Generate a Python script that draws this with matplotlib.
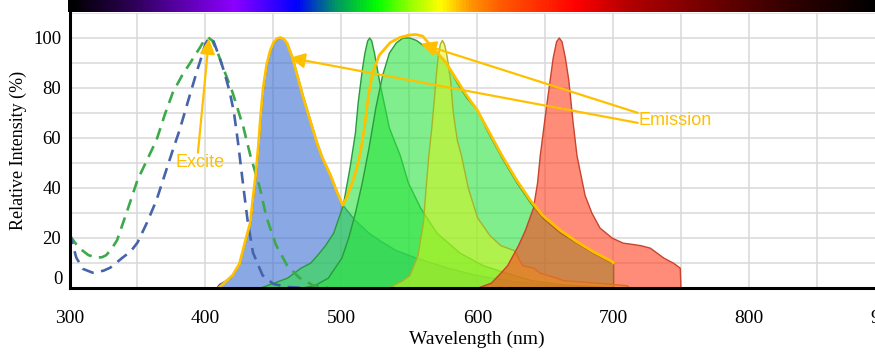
import numpy as np
import matplotlib
matplotlib.use('Agg')
import matplotlib.pyplot as plt
from matplotlib.colors import LinearSegmentedColormap, to_rgba
from matplotlib.patches import FancyArrowPatch

# ---------------- data ----------------
ex_blue_wl = [300, 305, 310, 317, 325, 330, 339, 345, 350, 357, 364, 370, 376, 381, 388, 394, 397, 400,
              403, 406, 408, 411, 414, 418, 421, 424, 426, 428, 431, 435, 442, 450, 460, 470]
ex_blue_val = [22, 12, 7.5, 6, 6.8, 8, 12, 14.5, 18, 26, 35, 45, 55, 63, 76, 87, 92, 97.5,
               100, 98.5, 95.5, 91, 86, 78, 70, 58, 49, 40, 27, 14, 5, 1.5, 0.3, 0]

ex_green_wl = [300, 304, 308, 314, 320, 324, 327, 331, 335, 342, 350, 357, 364, 370, 376, 383, 389,
               393, 396, 399, 402, 405, 409, 413, 420, 428, 433, 440, 445, 452, 460, 469, 479, 490]
ex_green_val = [21, 18, 15.5, 13, 12, 12.2, 13, 15.5, 19, 30, 43, 51, 59, 69, 78, 85, 90,
                93.5, 96, 98.8, 100, 98.8, 94, 88, 78, 64, 53, 40, 28, 17, 9, 4, 1, 0]

em_blue_wl = [408, 410, 415, 418, 421, 425, 430, 433, 435, 437, 439, 440.5, 442.5, 445, 447.5, 450, 452.5,
              455, 457.5, 460, 464, 467, 472, 477, 482, 486, 492, 497, 501, 510, 520, 528, 540, 555,
              578, 600, 627, 660, 700]
em_blue_val = [0, 1.5, 3, 4, 6, 10, 20, 26, 36, 45, 57, 68, 80, 89, 94.5, 97.8, 99.5,
               100, 99.5, 97.8, 92, 86, 76, 67, 58, 52, 45, 38, 33, 27, 22, 19, 15, 12,
               8, 5, 2.5, 1, 0]

em_green1_wl = [440, 450, 460, 470, 477, 482, 488, 494, 501, 506, 510, 512, 515, 517, 519, 520.5,
                522, 524, 528, 535, 543, 549, 558, 570, 587, 604, 621, 640, 660, 690, 700]
em_green1_val = [0, 2, 4, 8, 10, 13, 17, 22, 33, 48, 62, 74, 87, 94, 98.8, 100,
                 98.8, 94, 82, 64, 53, 42, 32, 22, 14, 9, 6, 3, 1.5, 0.5, 0]

em_green2_wl = [470, 480, 490, 500, 505, 510, 515, 520, 525, 530, 535, 540, 545, 550, 555, 560, 567,
                577, 585, 592, 600, 607, 614, 618, 629, 639, 648, 661, 673, 685, 699, 700]
em_green2_val = [0, 1, 4, 12, 20, 30, 42, 56, 72, 85, 94, 98, 100, 100, 99, 97, 96,
                 90, 82, 76, 71, 63, 56, 52, 42, 34, 28, 22, 18, 14, 10, 10]

em_yg_wl = [535, 538, 545, 550, 556, 560, 562, 564, 566, 568, 569.5, 571, 572.5, 574, 575.5, 577, 578.5,
            580, 582, 585, 588, 593, 600, 609, 617, 627, 633, 641, 646, 658, 663, 688, 710, 712]
em_yg_val = [0, 1, 3, 5, 13, 26, 40, 53, 63, 75, 85, 93, 97.5, 99, 97.5, 94, 89,
             83, 70, 59, 53, 40, 28, 21, 17, 15, 9, 8, 6, 4, 3, 2, 1, 0]

em_red_wl = [600, 605, 610, 617, 622, 626, 630, 635, 641, 644, 646, 650, 653, 655.5, 658, 660, 662,
             664.5, 667, 670, 673, 676, 679, 684, 690, 699, 707, 714, 720, 727, 732, 737, 744, 749, 749.5]
em_red_val = [0, 1, 2, 6, 9, 13, 17, 23, 32, 42, 53, 70, 82, 92, 98.5, 100, 98.5,
              92, 83, 67, 53, 45, 37, 30, 24, 20, 18, 17.5, 17, 16, 14, 12, 10, 8, 0]

outline_wl = [410, 415, 420, 425, 430, 433, 435, 437, 439, 440.5, 442.5, 445, 447.5, 450, 452.5, 455,
              457.5, 460, 464, 467, 472, 477, 482, 486, 492, 497, 501, 504, 508, 511, 514, 517, 520,
              523, 528, 536, 543, 550, 555, 560, 563, 567, 577, 585, 592, 600, 607, 614, 618, 629,
              639, 648, 661, 673, 685, 699, 700]
outline_val = [0, 2.5, 5, 9.5, 20, 26, 36, 45, 57, 68, 80, 89, 94.5, 97.8, 99.5, 100,
               99.5, 97.8, 92, 86, 76, 67, 58, 52, 45, 38, 33, 36, 42, 47, 54, 64, 77,
               86, 93, 98, 100, 101, 101.2, 100.5, 98.5, 96, 90, 83, 77, 71, 64, 57, 53, 43,
               35, 29, 23, 18.5, 14.5, 10.5, 10]

x_ticks = [300, 400, 500, 600, 700, 800, 900]
y_ticks = [0, 20, 40, 60, 80, 100]

# spectral bar colour stops (nm, rgb)
bar_nm = [300, 345, 380, 420, 440, 466, 495, 525, 550, 572, 594, 617, 672, 710, 782, 830, 893, 900]
bar_rgb = [(0, 0, 0), (45, 0, 85), (90, 0, 170), (140, 0, 255), (80, 0, 255), (0, 0, 255),
           (0, 150, 100), (0, 255, 0), (150, 255, 0), (255, 255, 0), (255, 150, 0), (255, 90, 0),
           (255, 0, 0), (180, 0, 0), (100, 0, 0), (50, 0, 0), (0, 0, 0), (0, 0, 0)]

# ---------------- figure ----------------
W, H = 875, 353
fig = plt.figure(figsize=(W / 100, H / 100), dpi=100)
x0, x1 = 69.5, 885.0
yb, yt = 287.7, 12.5
ax = fig.add_axes([x0 / W, (H - yb) / H, (x1 - x0) / W, (yb - yt) / H])
bax = fig.add_axes([(x0 - 2) / W, (H - yt) / H, (W - x0 + 2) / W, yt / H])

# spectral bar
lo, hi = bar_nm[0], bar_nm[-1]
cmap = LinearSegmentedColormap.from_list(
    'spec', [((n - lo) / (hi - lo), tuple(c / 255 for c in rgb)) for n, rgb in zip(bar_nm, bar_rgb)])
bx_lo = 300 - 2 / 1.36
bx_hi = 300 + (W - x0) / 1.36
grad = np.linspace(bx_lo, bx_hi, 800)[None, :]
bax.imshow(grad, aspect='auto', cmap=cmap, vmin=lo, vmax=hi, extent=(bx_lo, bx_hi, 0, 1))
bax.set_axis_off()

ax.set_xlim(300, 900)
ax.set_ylim(0, 110)

def filled(wl, val, face, alpha, edge, lw=1.0):
    ax.fill_between(wl, val, 0, facecolor=to_rgba(face, alpha), edgecolor=edge, linewidth=lw, zorder=1)

filled(em_blue_wl, em_blue_val, '#3c6ed2', 0.6, '#3a55a8')
filled(em_green1_wl, em_green1_val, '#2be33f', 0.6, '#2a9a3a')
filled(em_green2_wl, em_green2_val, '#2be33f', 0.6, '#2a9a3a')
filled(em_yg_wl, em_yg_val, '#e0f50f', 0.5, '#a8b428')
filled(em_red_wl, em_red_val, '#ff3f1e', 0.6, '#c8442e')

ax.plot(ex_green_wl, ex_green_val, color='#3caa4b', lw=1.9, dashes=(4.5, 2.8), zorder=3)
ax.plot(ex_blue_wl, ex_blue_val, color='#4664aa', lw=1.9, dashes=(4.5, 2.8), zorder=3)
ax.plot(outline_wl, outline_val, color='#FFC000', lw=2.0, zorder=4)

gold = '#FFC000'
def arrow(a, b):
    ax.add_patch(FancyArrowPatch(a, b, arrowstyle='-|>,head_length=9,head_width=4.5',
                                 mutation_scale=1, lw=1.6, color=gold, shrinkA=0, shrinkB=0, zorder=5))

arrow((394.5, 54), (402.6, 99.5))
arrow((718, 69.9), (558.5, 97.5))
arrow((718, 65.9), (462.1, 91.9))
ax.text(396.3, 50, 'Excite', color=gold, fontsize=13, family='Liberation Sans',
        ha='center', va='center', zorder=6)
ax.text(718.5, 67, 'Emission', color=gold, fontsize=13, family='Liberation Sans',
        ha='left', va='center', zorder=6)

# axes styling
ax.set_xticks(x_ticks)
ax.set_xticks(np.arange(350, 900, 100), minor=True)
ax.set_yticks(y_ticks)
ax.set_yticks(np.arange(10, 111, 20), minor=True)
ax.set_xticklabels([str(v) for v in x_ticks], family='Liberation Serif', fontsize=14)
ax.set_yticklabels([str(v) if v != 0 else '' for v in y_ticks], family='Liberation Serif', fontsize=13.5)
ax.annotate('0', xy=(0, 0), xycoords=('axes fraction', 'data'), xytext=(-7, 8),
            textcoords='offset pixels', ha='right', va='center', family='Liberation Serif', fontsize=13.5)
ax.tick_params(which='both', length=0)
ax.tick_params(axis='x', pad=16)
ax.tick_params(axis='y', pad=6)
ax.set_axisbelow(True)
ax.grid(which='both', color='#d9d9d9', lw=1.1)
for s in ['top', 'right']:
    ax.spines[s].set_visible(False)
for s in ['left', 'bottom']:
    ax.spines[s].set_linewidth(2.2)
    ax.spines[s].set_color('black')
    ax.spines[s].set_zorder(7)

ax.set_xlabel('Wavelength (nm)', family='Liberation Serif', fontsize=14, labelpad=3)
ax.set_ylabel('Relative Intensity (%)', family='Liberation Serif', fontsize=13, labelpad=4)

fig.savefig('out.png', dpi=100)
